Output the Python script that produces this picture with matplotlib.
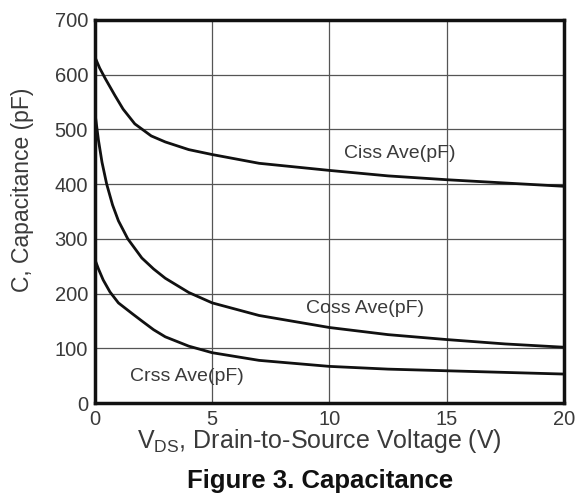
import numpy as np
import matplotlib.pyplot as plt

plt.rcParams['font.family'] = ['Liberation Sans', 'DejaVu Sans']

# curves (V, pF)
v_ciss = [0, 0.2, 0.45, 0.85, 1.2, 1.7, 2.4, 3, 4, 5, 7, 10, 12.5, 15, 17.5, 20]
ciss = [632, 612, 592, 562, 537, 510, 488, 477, 463, 454, 438, 425, 415, 408, 402, 396]

v_coss = [0, 0.15, 0.3, 0.5, 0.75, 1, 1.4, 2, 2.5, 3, 4, 5, 7, 10, 12.5, 15, 17.5, 20]
coss = [530, 480, 440, 400, 362, 333, 300, 265, 245, 228, 202, 183, 160, 138, 125, 116, 108, 102]

v_crss = [0, 0.15, 0.35, 0.64, 1, 1.6, 2, 2.5, 3, 4, 5, 7, 10, 12.5, 15, 17.5, 20]
crss = [262, 245, 225, 203, 183, 163, 150, 134, 121, 104, 92, 78, 67, 62, 59, 56, 53]

labels = ['Ciss Ave(pF)', 'Coss Ave(pF)', 'Crss Ave(pF)']
label_pos = [(10.6, 455), (9.0, 172), (1.5, 48)]

txt = '#3a3a3a'
fig = plt.figure(figsize=(5.79, 4.97), dpi=100)
ax = fig.add_axes([0.164, 0.189, 0.81, 0.771])

for vx, cy in [(v_ciss, ciss), (v_coss, coss), (v_crss, crss)]:
    ax.plot(vx, cy, color='#111111', lw=2, solid_joinstyle='round')

for s, (px, py) in zip(labels, label_pos):
    ax.text(px, py, s, fontsize=14, color=txt, va='center', ha='left')

ax.set_xlim(0, 20)
ax.set_ylim(0, 700)
ax.set_xticks([0, 5, 10, 15, 20])
ax.set_yticks(np.arange(0, 701, 100))
ax.grid(color='#555555', lw=0.9)
ax.tick_params(length=0, labelsize=14.5, labelcolor=txt, pad=5)
for sp in ax.spines.values():
    sp.set_linewidth(2.5)
    sp.set_color('#111111')

ax.set_ylabel('C, Capacitance (pF)', fontsize=16.5, color=txt)
ax.yaxis.set_label_coords(-0.13, 0.556)
fig.text(0.551, 0.112, r'V$_{\mathregular{DS}}$, Drain-to-Source Voltage (V)',
         fontsize=18, color=txt, ha='center', va='center')
fig.text(0.553, 0.032, 'Figure 3. Capacitance', fontsize=18.5, fontweight='bold',
         color='#111111', ha='center', va='center')

plt.savefig('out.png', dpi=100)
